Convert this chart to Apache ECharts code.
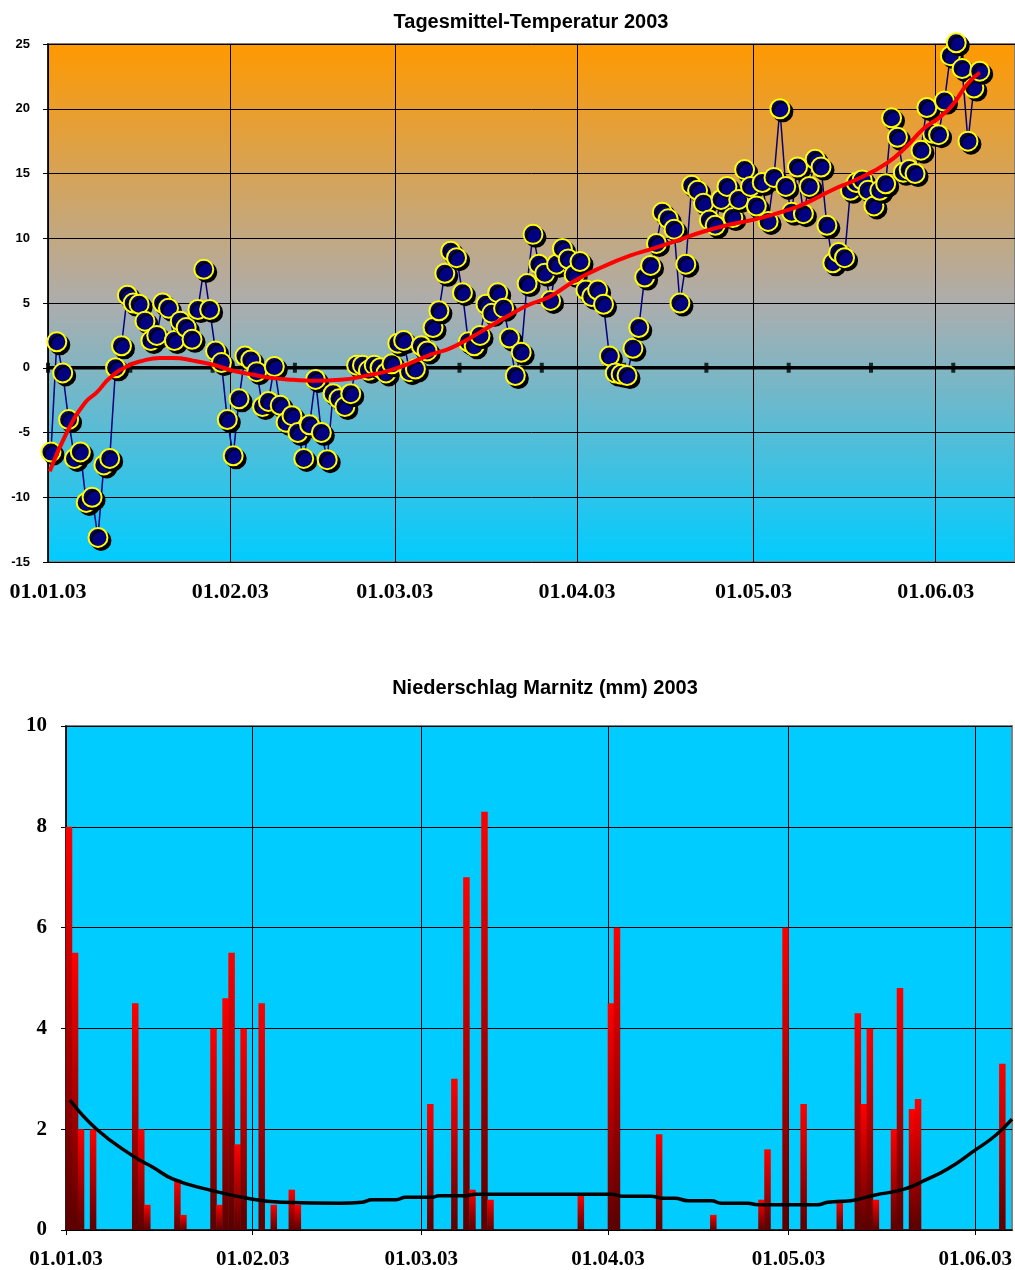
<!DOCTYPE html>
<html><head><meta charset="utf-8">
<script src="https://cdn.jsdelivr.net/npm/echarts@6/dist/echarts.min.js"></script>
<style>html,body{margin:0;padding:0;background:#fff}#c{width:1015px;height:1270px}</style>
</head><body><div id="c"></div>
<script>
// ---- shared axis data ----
const monthLabels = ['01.01.03','01.02.03','01.03.03','01.04.03','01.05.03','01.06.03'];
const monthDays = [0,31,59,90,120,151];

// ---- Tagesmittel-Temperatur (°C), one value per day starting 01.01.03 ----
const tempValues = [
 -6.5, 2.0, -0.4, -4.0, -7.0, -6.5, -10.4, -10.0, -13.1, -7.5,
 -7.0, 0.0, 1.7, 5.6, 5.0, 4.9, 3.6, 2.1, 2.5, 5.0,
 4.6, 2.1, 3.6, 3.1, 2.2, 4.5, 7.6, 4.5, 1.3, 0.4,
 -4.0, -6.8, -2.4, 0.9, 0.6, -0.3, -3.0, -2.6, 0.1, -2.9,
 -4.2, -3.7, -5.0, -7.0, -4.4, -0.9, -5.0, -7.1, -2.0, -2.4,
 -3.0, -2.0, 0.2, 0.2, -0.2, 0.2, 0.0, -0.4, 0.3, 1.9,
 2.1, -0.3, -0.1, 1.7, 1.3, 3.1, 4.4, 7.3, 9.0, 8.5,
 5.8, 2.0, 1.7, 2.5, 4.9, 4.2, 5.8, 4.6, 2.3, -0.6,
 1.2, 6.5, 10.3, 8.0, 7.3, 5.2, 8.0, 9.2, 8.4, 7.2,
 8.2, 6.0, 5.5, 6.0, 4.9, 0.9, -0.4, -0.5, -0.6, 1.5,
 3.1, 7.0, 7.9, 9.6, 12.0, 11.5, 10.7, 5.0, 8.0, 14.1,
 13.7, 12.7, 11.4, 11.0, 13.0, 14.0, 11.6, 13.0, 15.3, 14.0,
 12.5, 14.3, 11.3, 14.7, 20.0, 14.0, 12.0, 15.5, 11.9, 14.0,
 16.1, 15.5, 11.0, 8.1, 8.9, 8.5, 13.7, 14.3, 14.5, 13.7,
 12.5, 13.7, 14.2, 19.3, 17.8, 15.1, 15.3, 15.0, 16.8, 20.1,
 18.1, 18.0, 20.6, 24.1, 25.1, 23.1, 17.5, 21.6, 22.9
];
// trend curve (red) sampled positions in days and values
const tempTrendDays = [0.3,3.2,6.3,8.3,10.5,13.4,16.2,19,21.3,24.7,28.1,31.5,34.9,38.3,41.7,45.1,49.7,54.8,58.2,61.6,65,68.4,71.8,75.2,78.6,82,85.4,89.9,94.4,99,102.9,107.5,111.4,115.5,121.1,126.7,129.6,133.5,138.1,142.7,146.1,148.8,151.7,153.9,156.3,158.5];
const tempTrendValues = [-8.0,-5.0,-2.7,-1.9,-0.8,0.1,0.55,0.75,0.75,0.55,0.23,-0.23,-0.54,-0.8,-0.93,-1.0,-0.93,-0.55,-0.2,0.36,1.0,1.5,2.3,3.2,4.1,4.9,5.5,6.8,7.8,8.65,9.2,9.9,10.5,11.0,11.55,12.3,12.85,13.75,14.65,15.8,17.1,18.4,19.35,20.3,21.85,22.8];
// minor tick marks on the zero line (every 14 days)
const zeroTickDays = [0,14,28,42,56,70,84,98,112,126,140,154];

// ---- Niederschlag Marnitz (mm) ----
const rainDays   = [0,1,2,4,11,12,13,18,19,24,25,26,27,28,29,32,34,37,38,60,64,66,67,69,70,85,90,91,98,107,115,116,119,122,128,131,132,133,134,137,138,140,141,155];
const rainValues = [8.0,5.5,2.0,2.0,4.5,2.0,0.5,1.0,0.3,4.0,0.5,4.6,5.5,1.7,4.0,4.5,0.5,0.8,0.5,2.5,3.0,7.0,0.8,8.3,0.6,0.7,4.5,6.0,1.9,0.3,0.6,1.6,6.0,2.5,0.6,4.3,2.5,4.0,0.6,2.0,4.8,2.4,2.6,3.3];
const rainTrendDays   = [0.66,5.1,11.1,14.5,17.8,23.3,31,36,45.4,49.2,50.8,54.8,56.4,60.8,61.9,66.3,68,90.6,92.3,97.2,98.9,101.1,103.3,107.2,108.8,113.2,114.9,124.8,126.5,130.3,134.2,139.2,142.5,146.4,150.8,154.3,157.1];
const rainTrendValues = [2.58,2.0,1.47,1.24,1.01,0.81,0.61,0.55,0.53,0.55,0.6,0.6,0.65,0.65,0.68,0.68,0.71,0.71,0.67,0.67,0.63,0.63,0.58,0.58,0.53,0.53,0.5,0.5,0.55,0.58,0.69,0.81,0.98,1.21,1.57,1.87,2.2];

const chart = echarts.init(document.getElementById('c'), null, {renderer:'canvas'});
const monthFmt = v => { const k = monthDays.indexOf(Math.round(v)); return k >= 0 ? monthLabels[k] : ''; };
const serif = '"Liberation Serif","Times New Roman",serif';
const sans = '"Liberation Sans",Arial,sans-serif';

const option = {
  animation: false,
  graphic: [
    {type:'text', x: 531, y: 22, style:{text:'Tagesmittel-Temperatur 2003', font:'bold 20px ' + sans, fill:'#000', align:'center', verticalAlign:'middle'}},
    {type:'text', x: 545, y: 688, style:{text:'Niederschlag Marnitz (mm) 2003', font:'bold 20px ' + sans, fill:'#000', align:'center', verticalAlign:'middle'}}
  ],
  grid: [
    {left:48, right:0, top:44, height:518, show:true, borderColor:'#808080', borderWidth:2,
     backgroundColor: new echarts.graphic.LinearGradient(0,0,0,1,[{offset:0,color:'#FF9900'},{offset:0.5,color:'#ADADAD'},{offset:1,color:'#00CCFF'}])},
    {left:66, right:0, top:726, height:505, show:true, borderColor:'#808080', borderWidth:2, backgroundColor:'#00CCFF'}
  ],
  xAxis: [
    {type:'value', gridIndex:0, min:0, max:164.5,
     axisLine:{show:false}, axisTick:{show:false, customValues: monthDays},
     axisLabel:{customValues: monthDays, formatter: monthFmt, fontFamily: serif, fontWeight:'bold', fontSize:22, color:'#000', margin:19},
     splitLine:{show:true, lineStyle:{color:'#000', width:1}}},
    {type:'value', gridIndex:1, min:0, max:157.1,
     axisLine:{show:true, lineStyle:{color:'#000', width:1.5}}, axisTick:{show:true, length:5, customValues: monthDays, lineStyle:{color:'#000'}},
     axisLabel:{customValues: monthDays, formatter: monthFmt, fontFamily: serif, fontWeight:'bold', fontSize:21, color:'#000', margin:19},
     splitLine:{show:true, lineStyle:{color:'#000', width:1}}}
  ],
  yAxis: [
    {type:'value', gridIndex:0, min:-15, max:25, interval:5,
     axisLine:{show:true, lineStyle:{color:'#000', width:1.5}}, axisTick:{show:true, length:5, lineStyle:{color:'#000'}},
     axisLabel:{fontFamily: sans, fontWeight:'bold', fontSize:13, color:'#000', margin:18},
     splitLine:{show:true, lineStyle:{color:'#000', width:1}}},
    {type:'value', gridIndex:1, min:0, max:10, interval:2,
     axisLine:{show:true, lineStyle:{color:'#000', width:1.5}}, axisTick:{show:true, length:5, lineStyle:{color:'#000'}},
     axisLabel:{fontFamily: serif, fontWeight:'bold', fontSize:21, color:'#000', margin:19},
     splitLine:{show:true, lineStyle:{color:'#000', width:1}}}
  ],
  series: [
    {type:'line', xAxisIndex:0, yAxisIndex:0, data:[[0,0],[164.5,0]], symbol:'none', silent:true,
     lineStyle:{color:'#000', width:3.5}, z:2},
    {type:'scatter', xAxisIndex:0, yAxisIndex:0, data: zeroTickDays.map(d=>[d,0]), symbol:'rect',
     symbolSize:[4,10], itemStyle:{color:'#000'}, z:2, silent:true},
    {type:'line', xAxisIndex:0, yAxisIndex:0, data: tempValues.map((v,i)=>[i+0.5, v]),
     symbol:'circle', symbolSize:19, clip:false,
     lineStyle:{color:'#000080', width:1.5},
     itemStyle:{color:'#000080', borderColor:'#FFFF00', borderWidth:2, shadowColor:'#000', shadowOffsetX:3, shadowOffsetY:3, shadowBlur:0},
     z:3},
    {type:'line', xAxisIndex:0, yAxisIndex:0, data: tempTrendDays.map((d,i)=>[d, tempTrendValues[i]]),
     symbol:'none', smooth:true, lineStyle:{color:'#FF0000', width:4}, z:5},
    {type:'bar', xAxisIndex:1, yAxisIndex:1, data: rainDays.map((d,i)=>[d+0.5, rainValues[i]]),
     barWidth:6.5,
     itemStyle:{color: new echarts.graphic.LinearGradient(0,0,0,1,[{offset:0,color:'#FF0000'},{offset:1,color:'#5A0000'}])},
     z:3},
    {type:'line', xAxisIndex:1, yAxisIndex:1, data: rainTrendDays.map((d,i)=>[d, rainTrendValues[i]]),
     symbol:'none', smooth:true, lineStyle:{color:'#000', width:3.5}, z:5}
  ]
};
chart.setOption(option);
</script></body></html>
